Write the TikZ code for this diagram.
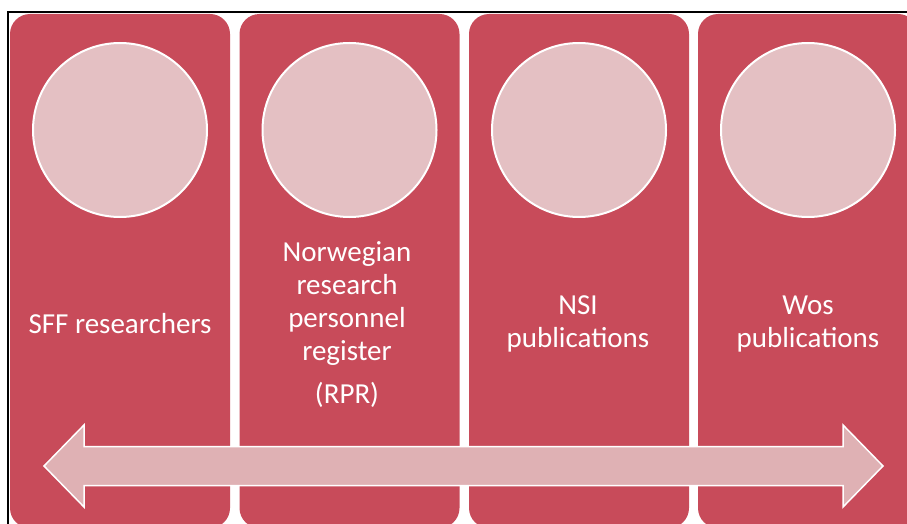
\documentclass[tikz,border=0pt]{standalone}
\usepackage{fontspec}
\setmainfont{Carlito}
\definecolor{panelred}{HTML}{C84B5A}
\definecolor{circpink}{HTML}{E4C0C3}
\definecolor{arrowpink}{HTML}{DFB1B4}
\begin{document}
\begin{tikzpicture}[x=1pt,y=-1pt,
  panel/.style={fill=panelred, draw=none, rounded corners=20pt, minimum width=220pt, minimum height=514pt, inner sep=0pt},
  circ/.style={circle, fill=circpink, draw=white, line width=2pt, minimum size=174pt, inner sep=0pt},
  lbl/.style={text=white, font=\fontsize{29}{33}\selectfont, align=center},
  darrow/.style={fill=arrowpink, draw=white, line width=1.5pt, line join=miter}]
\useasboundingbox (0,0) rectangle (907,524);
\begin{scope}
\clip (0,0) rectangle (907,524);
\draw[black, line width=1.2pt] (8,12) rectangle (1000,600);
\node[panel] (p1) at (120,271) {};
\node[panel] (p2) at (349.5,271) {};
\node[panel] (p3) at (579,271) {};
\node[panel] (p4) at (808,271) {};
\end{scope}
\node[circ] (c1) at (120,130) {};
\node[circ] (c2) at (349.5,130) {};
\node[circ] (c3) at (579,130) {};
\node[circ] (c4) at (808,130) {};
\node[lbl] (t1) at (120,324) {SFF researchers};
\node[lbl] (t2) at (347,325) {Norwegian\\research\\personnel\\register\\[10pt](RPR)};
\node[lbl] (t3) at (578,324) {NSI\\publications};
\node[lbl] (t4) at (808,324) {Wos\\publications};
\coordinate (ltip) at (44,466);
\coordinate (rtip) at (883,466);
\draw[darrow] (ltip) -- (84,425) -- (84,446.5) -- (843,446.5) -- (843,425) -- (rtip)
  -- (843,507) -- (843,485.5) -- (84,485.5) -- (84,507) -- cycle;
\end{tikzpicture}
\end{document}
